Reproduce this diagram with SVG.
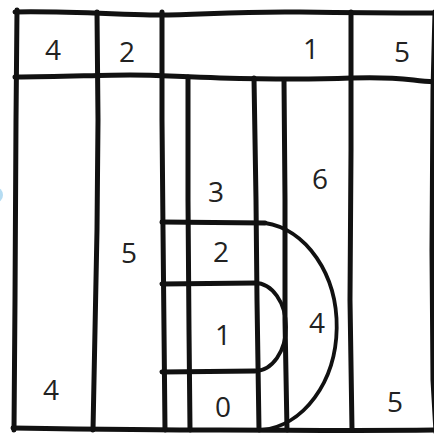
<svg xmlns="http://www.w3.org/2000/svg" width="434" height="434" viewBox="0 0 434 434">
<style>
.ln{fill:none;stroke:#111;stroke-width:5;stroke-linecap:round;stroke-linejoin:round}
.arc{fill:none;stroke:#111;stroke-width:3.8;stroke-linecap:round}
.lbl{font-family:"Open Sans","DejaVu Sans",sans-serif;font-size:28px;fill:#222;text-anchor:middle}
</style>
<rect width="434" height="434" fill="#fff"/>
<circle cx="-5" cy="195" r="8" fill="#b5dcf2"/>
<g id="frame">
<path class="ln" d="M15,12 C60,11 110,14 150,15 S230,11 300,12 S380,13 436,13"/>
<path class="ln" d="M17,10 L16,120 L15,300 L14,430"/>
<path class="ln" d="M13,428 C80,429 150,430 220,430 S350,431 436,430"/>
<path class="ln" d="M435,12 L433,90 L432,250 L433,380 L436,432"/>
</g>
<g id="grid">
<path class="ln" d="M15,77 C60,77 100,75 130,75 S180,77 220,78 S300,80 351,78 S410,81 436,82"/>
<path class="ln" d="M97,12 L98,120 L97,230 L95,330 L93,430"/>
<path class="ln" d="M162,12 L162,120 L163,230 L164,330 L165,430"/>
<path class="ln" d="M188,77 L188,200 L189,330 L190,430"/>
<path class="ln" d="M254,78 L256,200 L257,300 L259,430"/>
<path class="ln" d="M284,80 L285,200 L285,320 L287,430"/>
<path class="ln" d="M351,12 L351,150 L350,300 L352,430"/>
<path class="ln" d="M162,222 L265,223"/>
<path class="ln" d="M162,284 L255,283"/>
<path class="ln" d="M162,372 L255,371"/>
</g>
<g id="arcs">
<path class="arc" d="M265,223 A81,104 0 0 1 262,430"/>
<path class="arc" d="M255,283 A31,44 0 0 1 255,371"/>
</g>
<g id="labels">
<text class="lbl" x="53" y="60">4</text>
<text class="lbl" x="127" y="62">2</text>
<text class="lbl" x="311" y="59">1</text>
<text class="lbl" x="402" y="62">5</text>
<text class="lbl" x="216" y="202">3</text>
<text class="lbl" x="320" y="189">6</text>
<text class="lbl" x="129" y="263">5</text>
<text class="lbl" x="221" y="262">2</text>
<text class="lbl" x="317" y="333">4</text>
<text class="lbl" x="223" y="345">1</text>
<text class="lbl" x="51" y="400">4</text>
<text class="lbl" x="223" y="417">0</text>
<text class="lbl" x="395" y="412">5</text>
</g>
</svg>
